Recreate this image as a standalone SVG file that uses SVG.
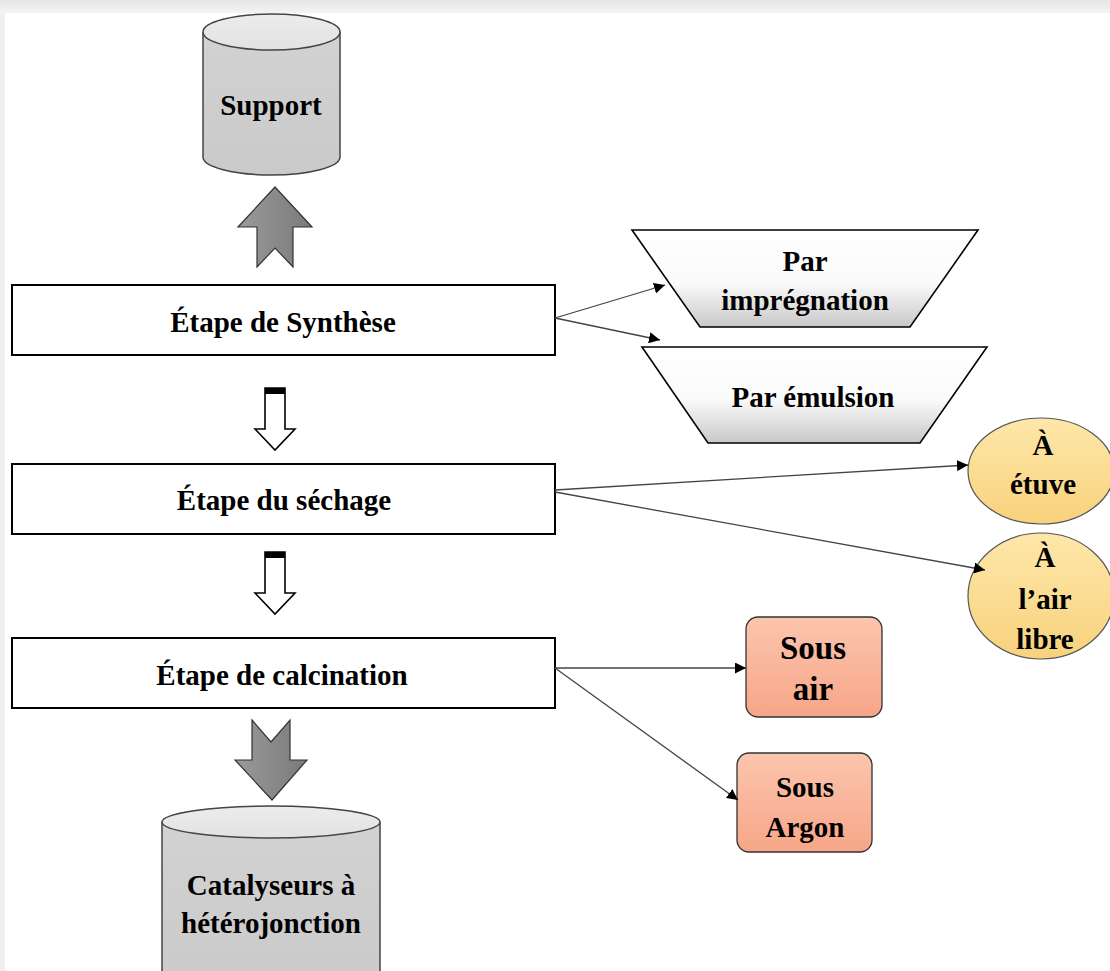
<svg xmlns="http://www.w3.org/2000/svg" width="1110" height="971" viewBox="0 0 1110 971">
<defs>
<linearGradient id="cylBody" x1="0" y1="0" x2="0" y2="1"><stop offset="0" stop-color="#d2d2d2"/><stop offset="1" stop-color="#cacaca"/></linearGradient>
<linearGradient id="cylTop" x1="0" y1="0" x2="0" y2="1"><stop offset="0" stop-color="#ececec"/><stop offset="1" stop-color="#e2e2e2"/></linearGradient>
<linearGradient id="grayArrow" x1="0" y1="0" x2="1" y2="0"><stop offset="0" stop-color="#9a9a9a"/><stop offset="1" stop-color="#7a7a7a"/></linearGradient>
<linearGradient id="trap" x1="0" y1="0" x2="0" y2="1"><stop offset="0" stop-color="#ffffff"/><stop offset="0.55" stop-color="#fafafa"/><stop offset="1" stop-color="#c8c8c8"/></linearGradient>
<linearGradient id="gold" x1="0" y1="0" x2="0" y2="1"><stop offset="0" stop-color="#fee7aa"/><stop offset="1" stop-color="#f8d27c"/></linearGradient>
<linearGradient id="salmon" x1="0" y1="0" x2="0" y2="1"><stop offset="0" stop-color="#fbc5ae"/><stop offset="1" stop-color="#f7a688"/></linearGradient>
<linearGradient id="topShade" x1="0" y1="0" x2="0" y2="1"><stop offset="0" stop-color="#e6e6e6"/><stop offset="1" stop-color="#f4f4f4"/></linearGradient>
<marker id="ah" viewBox="0 0 10 10" refX="10" refY="5" markerWidth="11" markerHeight="11" markerUnits="userSpaceOnUse" orient="auto"><path d="M0,0 L10,5 L0,10 z" fill="#000"/></marker>
</defs>
<style>
.t{font-family:"Liberation Serif","Times New Roman",serif;font-weight:bold;font-size:29px;fill:#000;text-anchor:middle}
.box{fill:#fff;stroke:#000;stroke-width:2}
.cyl{stroke:#444;stroke-width:1.5}
.con{stroke:#444;stroke-width:1.3;fill:none;marker-end:url(#ah)}
.hol{fill:#fff;stroke:#000;stroke-width:1.6}
</style>
<rect x="0" y="0" width="1110" height="971" fill="#f0f0f0"/>
<rect x="0" y="0" width="1110" height="13" fill="url(#topShade)"/>
<rect x="5" y="13" width="1105" height="958" fill="#ffffff"/>

<g id="support">
<path class="cyl" d="M203,32 L203,157 A68.5,18 0 0 0 340,157 L340,32" fill="url(#cylBody)"/>
<ellipse class="cyl" cx="271.5" cy="32" rx="68.5" ry="18" fill="url(#cylTop)"/>
<text class="t" x="271" y="115">Support</text>
</g>

<g id="arrow-up">
<path d="M275,187 L312,227 L293,227 L293,267 L275,248 L257,267 L257,227 L238,227 Z" fill="url(#grayArrow)" stroke="#333" stroke-width="1.2"/>
</g>

<g id="synthese">
<rect class="box" x="12" y="285" width="543" height="70"/>
<text class="t" x="283" y="332">Étape de Synthèse</text>
</g>

<g id="impregnation">
<path d="M632,230 L978,230 L910,327 L700,327 Z" fill="url(#trap)" stroke="#000" stroke-width="1.6"/>
<text class="t" x="805" y="271">Par</text>
<text class="t" x="805" y="310">imprégnation</text>
</g>

<g id="emulsion">
<path d="M642,347 L987,347 L920,443 L708,443 Z" fill="url(#trap)" stroke="#000" stroke-width="1.6"/>
<text class="t" x="813" y="407">Par émulsion</text>
</g>

<g id="hollow1">
<path class="hol" d="M265,388 L285,388 L285,429 L295,429 L275,450 L255,429 L265,429 Z"/>
<rect x="265" y="388" width="20" height="6" fill="#000"/>
</g>

<g id="sechage">
<rect class="box" x="12" y="464" width="543" height="70"/>
<text class="t" x="284" y="510">Étape du séchage</text>
</g>

<g id="etuve">
<ellipse cx="1041" cy="471" rx="73" ry="53" fill="url(#gold)" stroke="#555" stroke-width="1.2"/>
<text class="t" x="1043" y="455">À</text>
<text class="t" x="1043" y="494">étuve</text>
</g>

<g id="airlibre">
<ellipse cx="1041" cy="596" rx="73" ry="63" fill="url(#gold)" stroke="#555" stroke-width="1.2"/>
<text class="t" x="1045" y="567">À</text>
<text class="t" x="1045" y="609">l’air</text>
<text class="t" x="1045" y="649">libre</text>
</g>

<g id="hollow2">
<path class="hol" d="M265,552 L285,552 L285,593 L295,593 L275,614 L255,593 L265,593 Z"/>
<rect x="265" y="552" width="20" height="6" fill="#000"/>
</g>

<g id="calcination">
<rect class="box" x="12" y="638" width="543" height="70"/>
<text class="t" x="282" y="685">Étape de calcination</text>
</g>

<g id="sousair">
<rect x="746" y="617" width="136" height="100" rx="12" fill="url(#salmon)" stroke="#333" stroke-width="1.3"/>
<text class="t" x="813" y="659" style="font-size:33px">Sous</text>
<text class="t" x="813" y="700" style="font-size:33px">air</text>
</g>

<g id="sousargon">
<rect x="737" y="753" width="135" height="99" rx="12" fill="url(#salmon)" stroke="#333" stroke-width="1.3"/>
<text class="t" x="805" y="797">Sous</text>
<text class="t" x="805" y="837">Argon</text>
</g>

<g id="arrow-down">
<path d="M252,720 L271,742 L290,720 L290,760 L307,760 L272,800 L235,760 L252,760 Z" fill="url(#grayArrow)" stroke="#333" stroke-width="1.2"/>
</g>

<g id="catalyseurs">
<path class="cyl" d="M162,822 L162,990 L380,990 L380,822" fill="url(#cylBody)"/>
<ellipse class="cyl" cx="271" cy="822" rx="109" ry="16" fill="url(#cylTop)"/>
<text class="t" x="271" y="895">Catalyseurs à</text>
<text class="t" x="271" y="933">hétérojonction</text>
</g>

<g id="connectors">
<line class="con" x1="555" y1="318" x2="665" y2="285"/>
<line class="con" x1="555" y1="318" x2="660" y2="340"/>
<line class="con" x1="555" y1="490" x2="968" y2="465"/>
<line class="con" x1="555" y1="492" x2="985" y2="570"/>
<line class="con" x1="555" y1="668" x2="746" y2="668"/>
<line class="con" x1="555" y1="668" x2="738" y2="800"/>
</g>
</svg>
